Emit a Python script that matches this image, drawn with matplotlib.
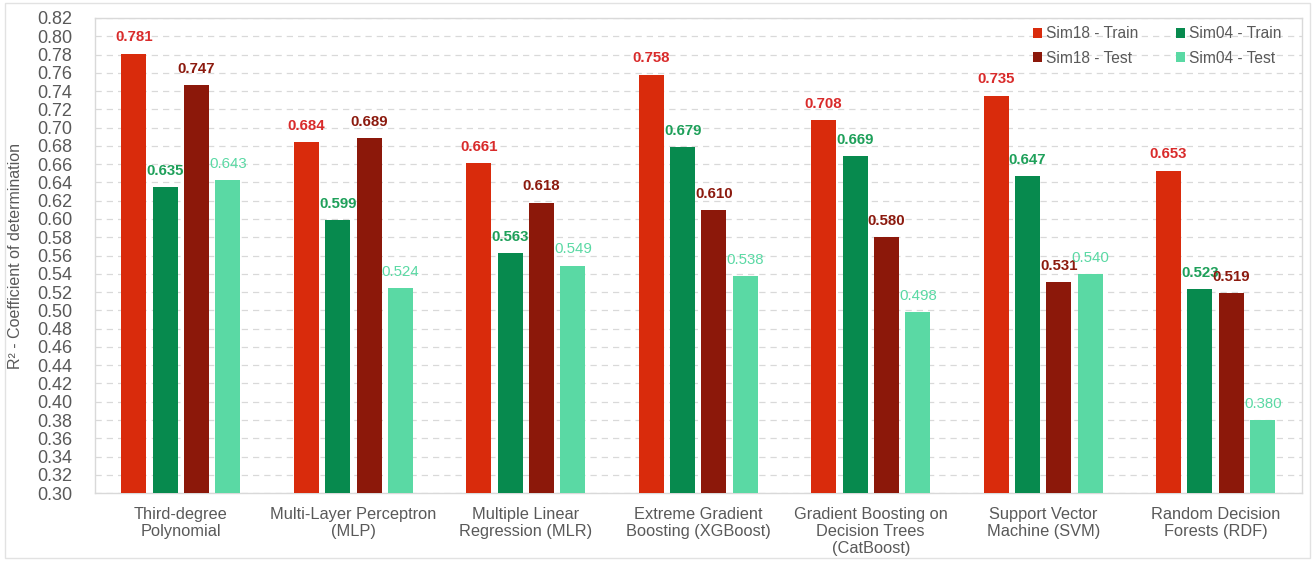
import numpy as np
import matplotlib
matplotlib.use("Agg")
import matplotlib.pyplot as plt
from matplotlib.patches import Rectangle

plt.rcParams['font.family'] = ['Liberation Sans', 'DejaVu Sans']

categories = ["Third-degree\nPolynomial", "Multi-Layer Perceptron\n(MLP)",
              "Multiple Linear\nRegression (MLR)", "Extreme Gradient\nBoosting (XGBoost)",
              "Gradient Boosting on\nDecision Trees\n(CatBoost)", "Support Vector\nMachine (SVM)",
              "Random Decision\nForests (RDF)"]
sim18_train = [0.781, 0.684, 0.661, 0.758, 0.708, 0.735, 0.653]
sim04_train = [0.635, 0.599, 0.563, 0.679, 0.669, 0.647, 0.523]
sim18_test = [0.747, 0.689, 0.618, 0.610, 0.580, 0.531, 0.519]
sim04_test = [0.643, 0.524, 0.549, 0.538, 0.498, 0.540, 0.380]

series = [
    ("Sim18 - Train", sim18_train, "#D92B0C", "#D92B2B", "bold"),
    ("Sim04 - Train", sim04_train, "#078A4E", "#1EA05A", "bold"),
    ("Sim18 - Test", sim18_test, "#8C180A", "#8C1A0E", "bold"),
    ("Sim04 - Test", sim04_test, "#5AD9A4", "#5AD9A4", "normal"),
]

fig = plt.figure(figsize=(13.15, 5.61), dpi=100)
ax = fig.add_axes([0.072, 0.121, 0.918, 0.847])

# thin outer border around the whole figure
fig.patches.append(Rectangle((0.004, 0.006), 0.992, 0.988, transform=fig.transFigure,
                             fill=False, edgecolor="#E2E2E2", linewidth=1))

x = np.arange(len(categories))
width = 0.145
step = 0.182
offsets = [-1.5 * step, -0.5 * step, 0.5 * step, 1.5 * step]

handles = []
for (name, vals, color, tcolor, weight), off in zip(series, offsets):
    bars = ax.bar(x + off, np.array(vals) - 0.30, width, bottom=0.30, color=color,
                  label=name, zorder=3)
    handles.append(bars)
    for xi, v in zip(x + off, vals):
        ax.text(xi, v + 0.010, f"{v:.3f}", ha="center", va="bottom", color=tcolor,
                fontsize=10.8, fontweight=weight,
                family=['Liberation Sans Narrow', 'Liberation Sans', 'DejaVu Sans'],
                zorder=4)

ax.set_ylim(0.30, 0.82)
ax.set_xlim(-0.5, len(categories) - 0.5)
ax.set_yticks(np.arange(0.30, 0.8201, 0.02))
ax.set_yticklabels([f"{t:.2f}" for t in np.arange(0.30, 0.8201, 0.02)])
ax.set_xticks(x)
ax.set_xticklabels(categories, fontsize=11.8, color="#595959", linespacing=1.15)
ax.tick_params(axis="y", labelsize=13, labelcolor="#595959", length=0, pad=16)
ax.tick_params(axis="x", length=0, pad=10)

ax.yaxis.grid(True, linestyle=(0, (5, 4)), color="#D9D9D9", linewidth=0.9, zorder=0)
for side in ["left", "right", "top", "bottom"]:
    ax.spines[side].set_color("#D9D9D9")
    ax.spines[side].set_linewidth(1)

ax.set_ylabel("R² - Coefficient of determination", fontsize=11.5, color="#595959", labelpad=10)

# legend order: Sim18 column on the left, Sim04 column on the right
order = [0, 2, 1, 3]
ax.legend([handles[i] for i in order], [series[i][0] for i in order], ncol=2,
          loc="upper right", frameon=False, fontsize=11.2, handlelength=0.6,
          handleheight=0.6, handletextpad=0.25, columnspacing=2.4,
          labelspacing=0.6, labelcolor="#595959", bbox_to_anchor=(0.995, 1.012))

fig.savefig("out.png", dpi=100)
